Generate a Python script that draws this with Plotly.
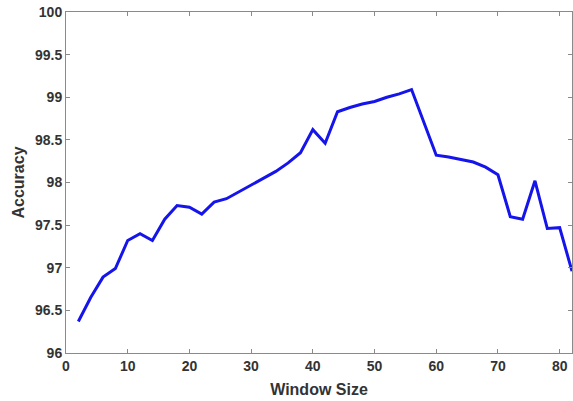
import plotly.graph_objects as go

window_size = [2, 4, 6, 8, 10, 12, 14, 16, 18, 20, 22, 24, 26, 28, 30, 32, 34, 36, 38, 40,
               42, 44, 46, 48, 50, 52, 54, 56, 58, 60, 62, 64, 66, 68, 70, 72, 74, 76, 78, 80, 82]
accuracy = [96.37, 96.65, 96.89, 96.99, 97.32, 97.40, 97.32, 97.57, 97.73, 97.71,
            97.63, 97.77, 97.81, 97.89, 97.96, 98.04, 98.13, 98.23, 98.35, 98.62,
            98.46, 98.83, 98.88, 98.92, 98.95, 99.00, 99.04, 99.09, 98.70, 98.32,
            98.30, 98.27, 98.24, 98.18, 98.09, 97.60, 97.57, 98.02, 97.46, 97.47, 96.96]

x_ticks = [0, 10, 20, 30, 40, 50, 60, 70, 80]
y_ticks = [96, 96.5, 97, 97.5, 98, 98.5, 99, 99.5, 100]
y_tick_labels = ["96", "96.5", "97", "97.5", "98", "98.5", "99", "99.5", "100"]

fig = go.Figure()
fig.add_trace(go.Scatter(x=window_size, y=accuracy, mode="lines",
                         line=dict(color="rgb(20,20,235)", width=3)))

FAM = "Liberation Sans, Arial, sans-serif"
axis_common = dict(showline=True, linecolor="#8a8a8a", linewidth=1, mirror="ticks",
                   ticks="inside", ticklen=4, tickcolor="#8a8a8a", showgrid=False,
                   zeroline=False, automargin=False,
                   tickfont=dict(family=FAM, size=14, color="#333333"))
fig.update_layout(
    width=573, height=401,
    margin=dict(l=66, r=1, t=12, b=48),
    paper_bgcolor="white", plot_bgcolor="white",
    showlegend=False, font=dict(family=FAM, size=14, color="#333333"),
    xaxis=dict(range=[0, 82], tickvals=x_ticks,
               ticktext=["<b>%d</b>" % t for t in x_ticks],
               title=dict(text="<b>Window Size</b>", font=dict(size=16, color="#333333"), standoff=11),
               **axis_common),
    yaxis=dict(range=[96, 100], tickvals=y_ticks,
               ticktext=["<b>%s</b>" % t for t in y_tick_labels],
               title=dict(text="<b>Accuracy</b>", font=dict(size=16, color="#333333"), standoff=6),
               **axis_common),
)
fig.write_html("out.html", config={"displayModeBar": False},
               post_script="document.body.style.margin='0px';document.body.style.overflow='hidden';")
